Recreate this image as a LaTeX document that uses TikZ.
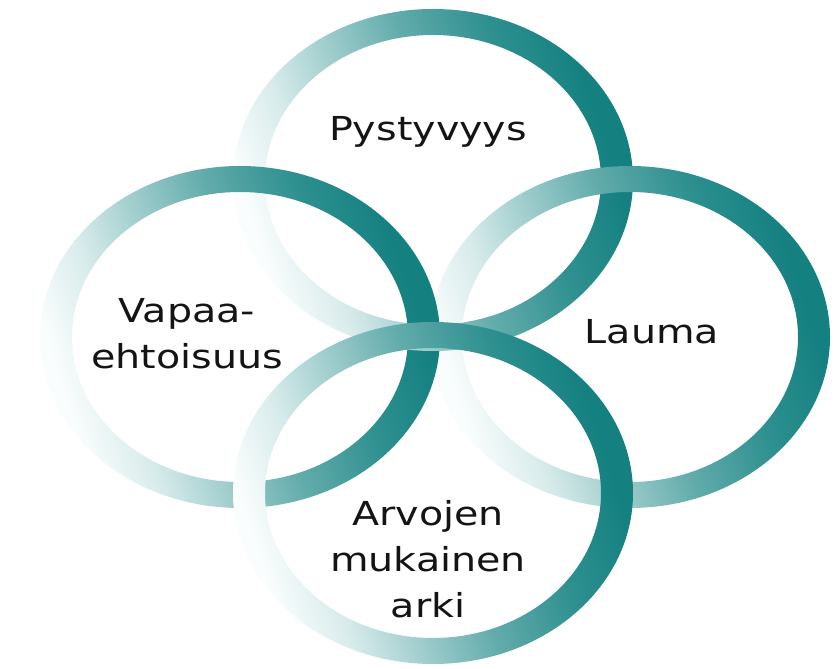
\documentclass[tikz,border=0pt]{standalone}
\usepackage{fontspec}
\newfontfamily\ringfont[FakeStretch=1.2]{DejaVu Sans}
\usepackage{tikz}
\definecolor{ink}{HTML}{141414}
\definecolor{ringdark}{HTML}{148080}
\definecolor{ringdeep}{HTML}{2F9090}
\definecolor{ringmid}{HTML}{62ABAB}
\definecolor{ringlight}{HTML}{A2CECE}
\definecolor{ringwash}{HTML}{D8EBEB}
\definecolor{ringpale}{HTML}{FAFDFD}
\pgfdeclarehorizontalshading{ringfade}{100bp}{color(0bp)=(ringpale);
  color(26bp)=(ringpale); color(34bp)=(ringwash); color(42bp)=(ringlight);
  color(52bp)=(ringmid); color(63bp)=(ringdeep); color(73bp)=(ringdark);
  color(100bp)=(ringdark)}
\tikzset{
  ringband/.style={shading=ringfade, shading angle=18, even odd rule},
  lbl/.style={font=\ringfont\fontsize{33}{46}\selectfont, text=ink, align=center}
}
\newcommand{\drawring}[1]{%
  \shade[ringband] (#1) ellipse [x radius=200, y radius=171]
    (#1) ellipse [x radius=168, y radius=145];}

\begin{document}
\begin{tikzpicture}[x=1pt, y=1pt]
  \useasboundingbox (0,0) rectangle (838,669);

  % ring centres
  \coordinate (topc) at (433,489);
  \coordinate (leftc) at (240,332);
  \coordinate (rightc) at (630,332);
  \coordinate (botc) at (433,176);

  % rings, back to front
  \drawring{topc}
  \drawring{rightc}
  \drawring{leftc}
  % lower arc of the top ring passes over left and right in the middle
  \begin{scope}
    \clip (380,250) rectangle (490,420);
    \clip (leftc) ellipse [x radius=200, y radius=171]
      (rightc) ellipse [x radius=200, y radius=171];
    \drawring{topc}
  \end{scope}
  \drawring{botc}

  % labels
  \node[lbl, anchor=base] (pysty) at (428,528) {Pystyvyys};
  \node[lbl] (vapaa) at (187,335) {Vapaa-\\ehtoisuus};
  \node[lbl, anchor=base] (lauma) at (652,325) {Lauma};
  \node[lbl] (arvot) at (428,110) {Arvojen\\mukainen\\arki};
\end{tikzpicture}
\end{document}
